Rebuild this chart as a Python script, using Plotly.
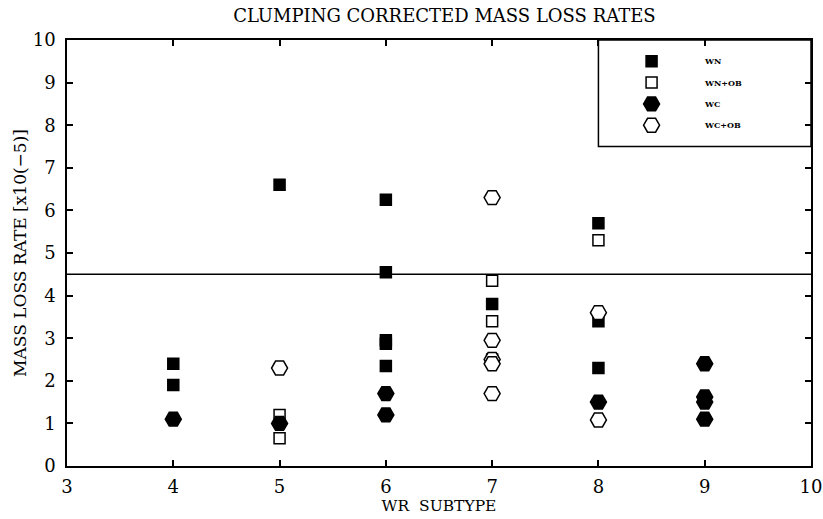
import plotly.graph_objects as go

# ---- data ----
wn_x = [4, 4, 5, 6, 6, 6, 6, 6, 7, 8, 8, 8]
wn_y = [2.4, 1.9, 6.6, 6.25, 4.55, 2.95, 2.87, 2.35, 3.8, 5.7, 3.4, 2.3]

wnob_x = [5, 5, 7, 7, 7, 8]
wnob_y = [1.2, 0.65, 4.35, 3.4, 2.5, 5.3]

wc_x = [4, 5, 6, 6, 8, 9, 9, 9, 9]
wc_y = [1.1, 1.0, 1.7, 1.2, 1.5, 2.4, 1.62, 1.5, 1.1]

wcob_x = [5, 7, 7, 7, 7, 7, 8, 8]
wcob_y = [2.3, 6.3, 2.95, 2.5, 2.4, 1.7, 3.6, 1.08]

ref_level = 4.5
legend_names = ["WN", "WN+OB", "WC", "WC+OB"]
legend_rows = [9.5, 9.0, 8.5, 8.0]
legend_box = dict(x0=8, x1=10, y0=7.5, y1=10)
legend_marker_x = 8.5
legend_label_x = 8.97

x_ticks = [3, 4, 5, 6, 7, 8, 9, 10]
y_ticks = list(range(0, 11))

FONT = "DejaVu Serif"

styles = [
    dict(symbol="square", size=11, color="black", line=dict(color="black", width=1.5)),
    dict(symbol="square", size=11, color="white", line=dict(color="black", width=1.5)),
    dict(symbol="hexagon2", size=16, color="black", line=dict(color="black", width=1.5)),
    dict(symbol="hexagon2", size=16, color="white", line=dict(color="black", width=1.5)),
]
series = [(wn_x, wn_y), (wnob_x, wnob_y), (wc_x, wc_y), (wcob_x, wcob_y)]

fig = go.Figure()

# reference line
fig.add_trace(go.Scatter(x=[x_ticks[0], x_ticks[-1]], y=[ref_level, ref_level],
                         mode="lines", line=dict(color="black", width=1.5),
                         showlegend=False, hoverinfo="skip", cliponaxis=False))

for (xs, ys), st, name in zip(series, styles, legend_names):
    fig.add_trace(go.Scatter(x=xs, y=ys, mode="markers", name=name,
                             marker=st, showlegend=False))

# custom legend
for st, name, ry in zip(styles, legend_names, legend_rows):
    fig.add_trace(go.Scatter(x=[legend_marker_x], y=[ry], mode="markers",
                             marker=st, showlegend=False, hoverinfo="skip"))
    fig.add_annotation(x=legend_label_x, y=ry, text="<b>%s</b>" % name,
                       showarrow=False, xanchor="left", yanchor="middle",
                       font=dict(family=FONT, size=8, color="black"))

fig.add_shape(type="rect", xref="x", yref="y", line=dict(color="black", width=1.5),
              fillcolor="rgba(0,0,0,0)", **legend_box)

axis_common = dict(showgrid=False, zeroline=False, showline=True, linecolor="black",
                   linewidth=1.5, mirror="ticks", ticks="inside", ticklen=6,
                   tickwidth=1.5, tickcolor="black", automargin=False,
                   tickfont=dict(family=FONT, size=18, color="black"))

fig.update_layout(
    width=823, height=519,
    margin=dict(l=67, r=12, t=40, b=53, autoexpand=False),
    paper_bgcolor="white", plot_bgcolor="white",
    title=dict(text="CLUMPING CORRECTED MASS LOSS RATES", x=0.54, xanchor="center",
               y=0.97, yanchor="middle",
               font=dict(family=FONT, size=18, color="black")),
    xaxis=dict(range=[3, 10], tickvals=x_ticks, ticklabelstandoff=4, **axis_common,
               title=dict(text="WR\u00a0\u00a0SUBTYPE", standoff=4,
                          font=dict(family=FONT, size=15.5, color="black"))),
    yaxis=dict(range=[0, 10], tickvals=y_ticks, ticklabelstandoff=6, **axis_common,
               title=dict(text="MASS LOSS RATE [x10(\u22125)]", standoff=2,
                          font=dict(family=FONT, size=17, color="black"))),
)

fig.write_html("out.html")
